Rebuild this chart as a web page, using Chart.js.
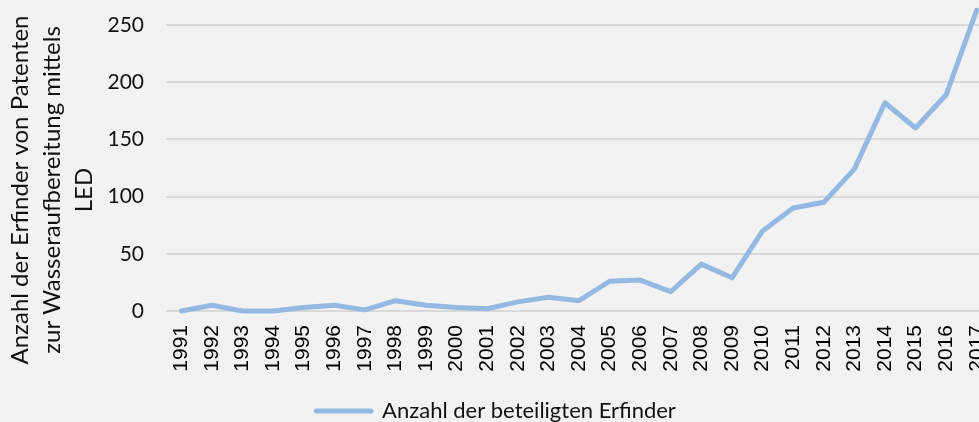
<!DOCTYPE html>
<html><head><meta charset="utf-8">
<script src="https://cdn.jsdelivr.net/npm/chart.js@4.4.0/dist/chart.umd.min.js"></script>
<style>
html,body{margin:0;padding:0;background:#f2f2f2;overflow:hidden;width:979px;height:422px;}
#c{position:absolute;left:0;top:0;}
</style></head><body>
<canvas id="c" width="998" height="432"></canvas>
<script>
const years = ["1991","1992","1993","1994","1995","1996","1997","1998","1999","2000","2001","2002","2003","2004","2005","2006","2007","2008","2009","2010","2011","2012","2013","2014","2015","2016","2017"];
const inventors = [0,5,0,0,3,5,1,9,5,3,2,8,12,9,26,27,17,41,29,70,90,95,124,182,160,189,263];
const seriesName = "Anzahl der beteiligten Erfinder";
const yTitle = ["Anzahl der Erfinder von Patenten","zur Wasseraufbereitung mittels","LED"];
const lineColor = "#95b9e2";
const gridColor = "#d9d9d9";
const textColor = "#111";
const sansFont = "Lato, 'Open Sans', sans-serif";

const yTitlePlugin = {
  id: 'yTitleLines',
  afterDraw(chart) {
    const ctx = chart.ctx;
    ctx.save();
    ctx.font = "24px " + sansFont;
    ctx.fillStyle = textColor;
    ctx.textAlign = 'center';
    ctx.textBaseline = 'middle';
    const cy = 190, x0 = 20, lh = 32;
    yTitle.forEach((t, i) => {
      ctx.save();
      ctx.translate(x0 + i * lh, cy);
      ctx.rotate(-Math.PI / 2);
      ctx.fillText(t, 0, 0);
      ctx.restore();
    });
    ctx.restore();
  }
};

new Chart(document.getElementById('c'), {
  type: 'line',
  data: {
    labels: years,
    datasets: [{
      label: seriesName,
      data: inventors,
      borderColor: lineColor,
      backgroundColor: lineColor,
      borderWidth: 5,
      pointRadius: 0,
      tension: 0,
      borderJoinStyle: 'round',
      borderCapStyle: 'round',
      clip: false
    }]
  },
  plugins: [yTitlePlugin],
  options: {
    responsive: false,
    animation: false,
    devicePixelRatio: 1,
    layout: { padding: { top: 25, right: 6, left: 0, bottom: 0 } },
    plugins: {
      tooltip: { enabled: false },
      legend: {
        position: 'bottom',
        labels: {
          color: textColor,
          font: { family: sansFont, size: 22 },
          boxWidth: 55,
          boxHeight: 0,
          padding: 8,
          generateLabels: (chart) => [{
            text: seriesName,
            fillStyle: lineColor,
            strokeStyle: lineColor,
            lineWidth: 5,
            lineJoin: 'round',
            lineCap: 'round',
            fontColor: textColor,
            datasetIndex: 0
          }]
        }
      }
    },
    scales: {
      x: {
        offset: true,
        grid: { display: false, drawTicks: false },
        border: { display: false },
        ticks: {
          color: '#000',
          font: { family: "'Liberation Sans', Arial, sans-serif", size: 21 },
          minRotation: 90, maxRotation: 90,
          autoSkip: false,
          padding: 14
        },
        afterFit: (s) => { s.height = 81; s.paddingLeft = 0; s.paddingRight = 0; }
      },
      y: {
        min: 0, max: 250,
        ticks: {
          stepSize: 50,
          color: textColor,
          font: { family: sansFont, size: 21 },
          padding: 22
        },
        grid: { color: gridColor, lineWidth: 2, drawTicks: false },
        border: { display: false },
        afterFit: (s) => { s.width = 166; s.paddingTop = 0; s.paddingBottom = 0; }
      }
    }
  }
});
</script>
</body></html>
